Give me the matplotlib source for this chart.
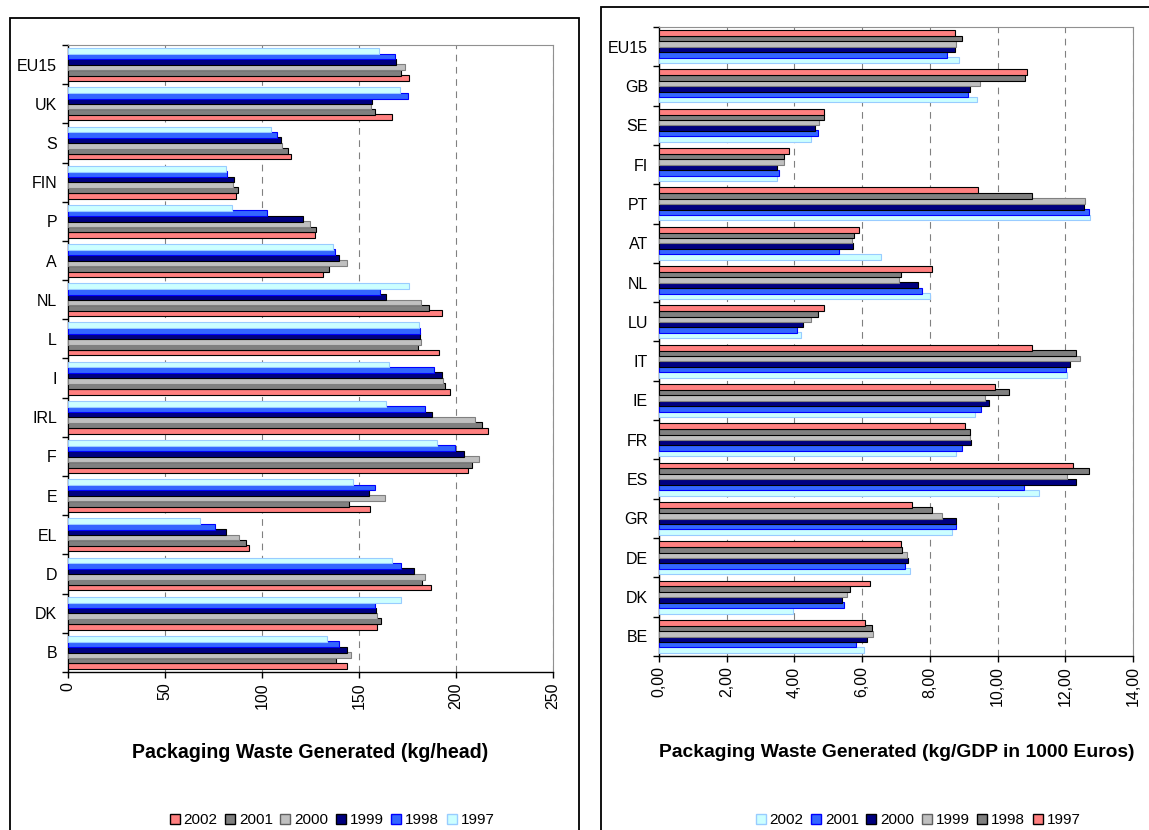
import numpy as np
import matplotlib.pyplot as plt
from matplotlib.patches import Rectangle, Patch
from matplotlib.ticker import FuncFormatter

plt.rcParams['font.family'] = ['Liberation Sans', 'DejaVu Sans']

# ---- left chart: kg per head (top to bottom)
left_countries = ["EU15", "UK", "S", "FIN", "P", "A", "NL", "L", "I", "IRL",
                  "F", "E", "EL", "D", "DK", "B"]
left_years = ["2002", "2001", "2000", "1999", "1998", "1997"]
left_vals = {
    "1997": [160.3, 171.0, 104.4, 81.5, 84.5, 136.6, 175.6, 181.1, 165.5, 164.1,
             190.3, 146.7, 67.9, 167.2, 171.8, 133.3],
    "1998": [168.5, 175.0, 107.5, 81.9, 102.5, 137.7, 160.9, 181.3, 188.6, 184.0,
             199.3, 158.2, 75.6, 171.8, 158.2, 139.6],
    "1999": [169.3, 156.8, 109.6, 85.7, 121.1, 139.6, 164.1, 181.7, 193.0, 187.8,
             204.3, 155.1, 81.5, 178.1, 158.8, 144.0],
    "2000": [173.5, 156.3, 110.2, 85.3, 124.9, 144.0, 181.9, 181.9, 193.4, 209.6,
             212.1, 163.4, 88.2, 183.8, 159.5, 146.1],
    "2001": [171.6, 158.2, 113.2, 87.6, 128.0, 134.5, 185.9, 180.2, 194.1, 213.3,
             208.1, 144.8, 92.0, 182.5, 161.4, 138.3],
    "2002": [175.6, 167.2, 115.2, 86.5, 127.4, 131.2, 192.6, 191.1, 196.8, 216.5,
             206.4, 155.5, 93.3, 187.1, 159.5, 144.0],
}
left_colors = {"2002": ("#FF8080", "black"), "2001": ("#808080", "black"),
               "2000": ("#C0C0C0", "#808080"), "1999": ("#000080", "black"),
               "1998": ("#3366FF", "#0000FF"), "1997": ("#CCFFFF", "#99CCFF")}

# ---- right chart: kg per 1000 Euros GDP (top to bottom)
right_countries = ["EU15", "GB", "SE", "FI", "PT", "AT", "NL", "LU", "IT", "IE",
                   "FR", "ES", "GR", "DE", "DK", "BE"]
right_years = ["2002", "2001", "2000", "1999", "1998", "1997"]
right_vals = {
    "1997": [8.73, 10.87, 4.88, 3.84, 9.43, 5.92, 8.07, 4.88, 11.03, 9.91,
             9.04, 12.24, 7.46, 7.14, 6.23, 6.09],
    "1998": [8.94, 10.80, 4.88, 3.69, 11.03, 5.77, 7.14, 4.70, 12.32, 10.34,
             9.19, 12.70, 8.07, 7.18, 5.64, 6.28],
    "1999": [8.76, 9.47, 4.72, 3.69, 12.59, 5.71, 7.08, 4.48, 12.42, 9.62,
             9.20, 12.06, 8.36, 7.32, 5.55, 6.32],
    "2000": [8.73, 9.20, 4.60, 3.48, 12.54, 5.74, 7.64, 4.24, 12.13, 9.76,
             9.22, 12.32, 8.78, 7.35, 5.41, 6.13],
    "2001": [8.52, 9.12, 4.70, 3.55, 12.70, 5.31, 7.76, 4.09, 12.03, 9.52,
             8.94, 10.77, 8.78, 7.26, 5.46, 5.81],
    "2002": [8.87, 9.38, 4.48, 3.48, 12.74, 6.57, 8.00, 4.20, 12.06, 9.33,
             8.76, 11.21, 8.64, 7.42, 3.97, 6.06],
}
right_colors = {"2002": ("#CCFFFF", "#99CCFF"), "2001": ("#3366FF", "#0000FF"),
                "2000": ("#000080", "black"), "1999": ("#C0C0C0", "#808080"),
                "1998": ("#808080", "black"), "1997": ("#FF8080", "black")}

W, H = 1149, 830
fig = plt.figure(figsize=(W / 100, H / 100), dpi=100)

# outer frames of the two pasted charts
fig.patches.append(Rectangle((10 / W, -0.1), 569 / W, 1.1 - 18 / H, transform=fig.transFigure,
                             fill=False, edgecolor="black", linewidth=1.3))
fig.patches.append(Rectangle((601 / W, -0.1), 0.5, 1.1 - 7 / H, transform=fig.transFigure,
                             fill=False, edgecolor="black", linewidth=1.3))


def draw_panel(ax, countries, vals, colors, bottom_first, xmax, xstep):
    n = len(countries)
    ypos = np.arange(n)[::-1]
    step = 0.138
    for k, yr in enumerate(bottom_first):
        off = (k - 2.5) * step
        fc, ec = colors[yr]
        ax.barh(ypos + off, vals[yr], height=step * 1.08, color=fc,
                edgecolor=ec, linewidth=0.8, zorder=3)
    ax.set_ylim(-0.5, n - 0.5)
    ax.set_xlim(0, xmax)
    ax.set_yticks(np.arange(n + 1) - 0.5)
    ax.set_yticklabels([])
    ax.set_yticks(ypos, minor=True)
    ax.set_yticklabels(countries, minor=True, fontsize=11.5)
    ax.tick_params(axis="y", which="minor", length=0, pad=8)
    ax.tick_params(axis="y", which="major", length=4, width=1, direction="out")
    ax.set_xticks(np.arange(0, xmax + xstep / 2, xstep))
    ax.tick_params(axis="x", length=4, width=1, labelsize=11.5, labelrotation=90)
    ax.grid(axis="x", linestyle=(0, (6, 5)), color="#808080", linewidth=0.8, zorder=0)
    ax.set_axisbelow(True)
    for s in ["top", "right"]:
        ax.spines[s].set_color("#909090")
    for s in ["left", "bottom"]:
        ax.spines[s].set_color("black")
        ax.spines[s].set_linewidth(1)


axl = fig.add_axes([68 / W, (H - 672) / H, (553 - 68) / W, (672 - 45) / H])
draw_panel(axl, left_countries, left_vals, left_colors,
           ["2002", "2001", "2000", "1999", "1998", "1997"], 250, 50)

axr = fig.add_axes([659 / W, (H - 656) / H, (1133 - 659) / W, (656 - 27) / H])
draw_panel(axr, right_countries, right_vals, right_colors,
           ["2002", "2001", "2000", "1999", "1998", "1997"], 14, 2)
axr.xaxis.set_major_formatter(FuncFormatter(lambda v, p: f"{v:.2f}".replace(".", ",")))

fig.text(310 / W, 1 - 752 / H, "Packaging Waste Generated (kg/head)",
         ha="center", va="center", fontsize=14.1, fontweight="bold")
fig.text(897 / W, 1 - 752 / H, "Packaging Waste Generated (kg/GDP in 1000 Euros)",
         ha="center", va="center", fontsize=13.9, fontweight="bold")

legend_kw = dict(loc="center", ncol=6, frameon=False, fontsize=11, handlelength=0.65,
                 handleheight=0.65, handletextpad=0.25, columnspacing=0.5)
lh = [Patch(facecolor=left_colors[y][0], edgecolor=left_colors[y][1] if y != "2000" else "#606060")
      for y in left_years]
fig.legend(lh, left_years, bbox_to_anchor=(332 / W, 1 - 820 / H), **legend_kw)
rh = [Patch(facecolor=right_colors[y][0], edgecolor=right_colors[y][1] if y != "1999" else "#606060")
      for y in right_years]
fig.legend(rh, right_years, bbox_to_anchor=(918 / W, 1 - 820 / H), **legend_kw)

fig.savefig("out.png", dpi=100)
